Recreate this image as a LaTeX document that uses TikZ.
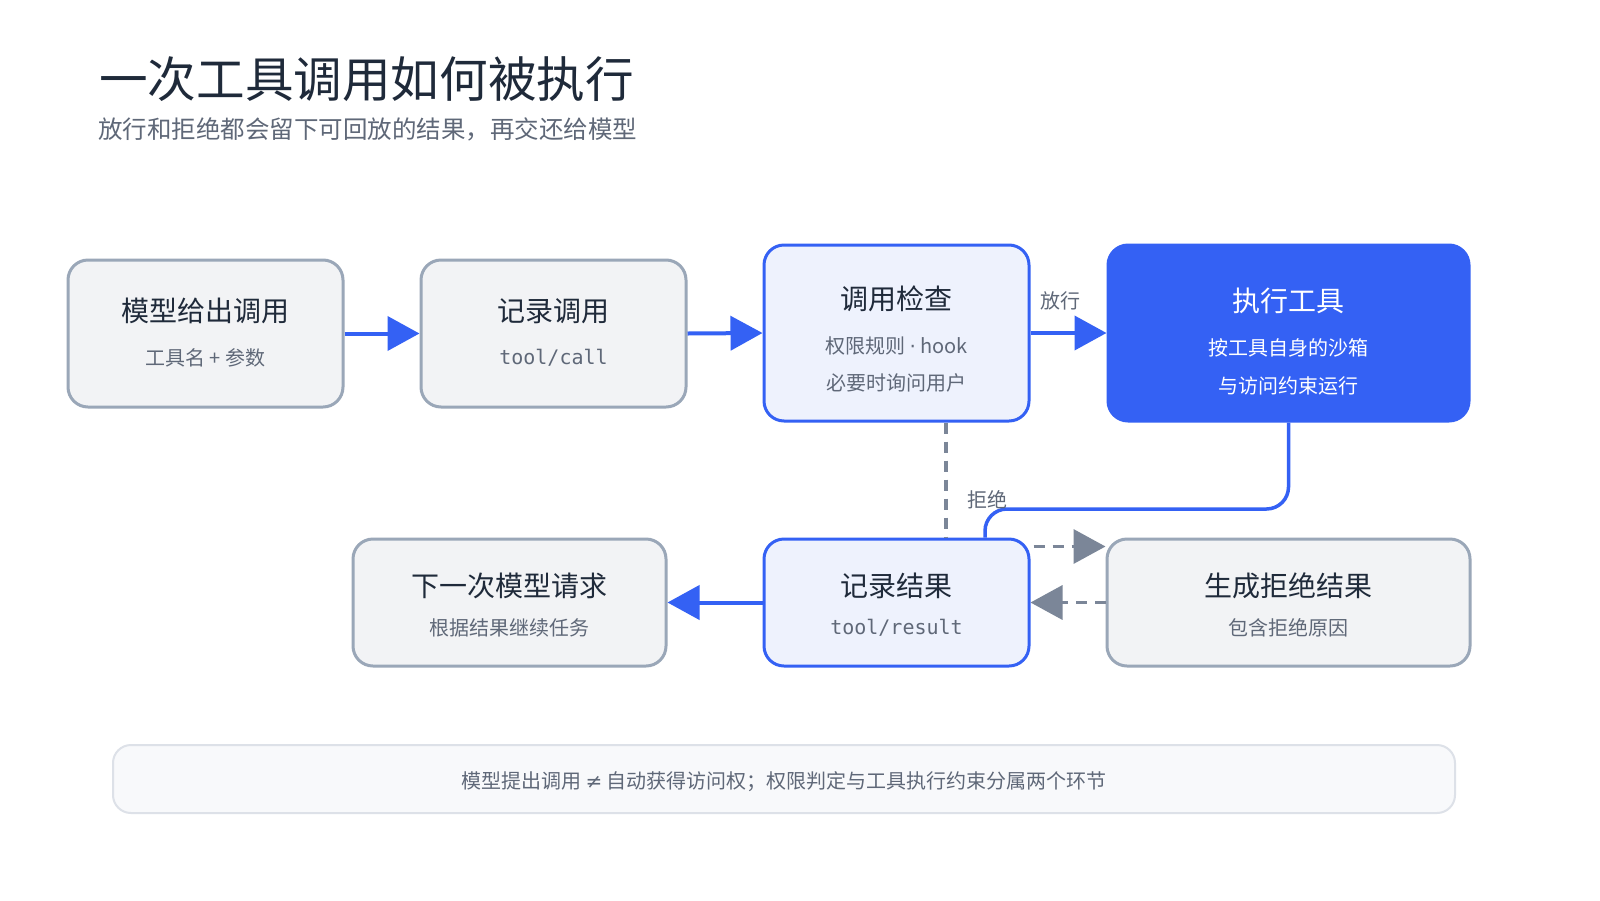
\documentclass[tikz,border=0pt]{standalone}
\usepackage{fontspec}
\setmainfont{Noto Sans CJK SC}
\newfontfamily\monof{DejaVu Sans Mono}
\newfontfamily\symf{DejaVu Sans}
\usetikzlibrary{arrows.meta,calc}
\definecolor{bluemain}{HTML}{3461F4}
\definecolor{bluefill}{HTML}{EEF2FD}
\definecolor{grayfill}{HTML}{F2F3F5}
\definecolor{grayline}{HTML}{9AA7B8}
\definecolor{dashgray}{HTML}{7B8698}
\definecolor{txtdark}{HTML}{1F2A3A}
\definecolor{txtgray}{HTML}{5F6878}
\definecolor{notefill}{HTML}{F8F9FB}
\definecolor{noteline}{HTML}{DDE1E8}
\tikzset{
  graybox/.style={draw=grayline, fill=grayfill, line width=3pt, rounded corners=20pt, inner sep=0pt},
  bluebox/.style={draw=bluemain, fill=bluefill, line width=3pt, rounded corners=20pt, inner sep=0pt},
  solidbox/.style={draw=bluemain, fill=bluemain, line width=3pt, rounded corners=20pt, inner sep=0pt},
  ttl/.style={font=\fontsize{28}{32}\selectfont, text=txtdark, inner sep=0pt},
  sub/.style={font=\fontsize{20}{24}\selectfont, text=txtgray, inner sep=0pt},
  subm/.style={font=\monof\fontsize{20}{24}\selectfont, text=txtgray, inner sep=0pt},
  flow/.style={draw=bluemain, line width=4pt, -{Triangle[length=32pt,width=34pt]}},
  dflow/.style={draw=dashgray, line width=3.5pt, dash pattern=on 11pt off 8pt, -{Triangle[length=32pt,width=34pt]}},
  lbl/.style={font=\fontsize{20}{24}\selectfont, text=txtgray, inner sep=0pt},
}
\begin{document}
\begin{tikzpicture}[x=1pt,y=-1pt]
\useasboundingbox (0,0) rectangle (1600,900);
\fill[white] (0,0) rectangle (1600,900);
% title
\node[anchor=base west, inner sep=0pt, text=txtdark, font=\fontsize{48.6}{52}\selectfont] (title) at (99,97) {一次工具调用如何被执行};
\node[anchor=base west, inner sep=0pt, text=txtgray, font=\fontsize{24.5}{28}\selectfont] (subtitle) at (98,138) {放行和拒绝都会留下可回放的结果，再交还给模型};
% boxes
\node[graybox, minimum width=275pt, minimum height=147pt] (A) at (205.5,333.5) {};
\node[graybox, minimum width=265pt, minimum height=147pt] (B) at (553.5,333.5) {};
\node[bluebox, minimum width=265pt, minimum height=176pt] (C) at (896.5,333) {};
\node[solidbox, minimum width=361pt, minimum height=176pt] (D) at (1288.5,333) {};
\node[graybox, minimum width=313pt, minimum height=127pt] (E) at (509.5,602.5) {};
\node[bluebox, minimum width=265pt, minimum height=127pt] (F) at (896.5,602.5) {};
\node[graybox, minimum width=363pt, minimum height=127pt] (G) at (1288.5,602.5) {};
% texts
\node[ttl] (At) at (205.5,311) {模型给出调用};
\node[sub] (As) at (205.5,358) {工具名 + 参数};
\node[ttl] (Bt) at (553.5,311) {记录调用};
\node[subm] (Bs) at (553.5,358) {tool/call};
\node[ttl] (Ct) at (896.5,299) {调用检查};
\node[sub] (Cs1) at (896.5,346) {权限规则 {\symf ·} hook};
\node[sub] (Cs2) at (896.5,383) {必要时询问用户};
\node[ttl, text=white] (Dt) at (1288.5,301) {执行工具};
\node[sub, text=white] (Ds1) at (1288.5,348) {按工具自身的沙箱};
\node[sub, text=white] (Ds2) at (1288.5,386) {与访问约束运行};
\node[ttl] (Et) at (509.5,586) {下一次模型请求};
\node[sub] (Es) at (509.5,628) {根据结果继续任务};
\node[ttl] (Ft) at (896.5,586) {记录结果};
\node[subm] (Fs) at (896.5,628) {tool/result};
\node[ttl] (Gt) at (1288.5,586) {生成拒绝结果};
\node[sub] (Gs) at (1288.5,628) {包含拒绝原因};
% connectors
\draw[flow] (A.east) -- (B.west);
\draw[flow] (B.east) -- (C.west);
\draw[flow] (C.east) -- (D.west);
\node[lbl] (l1) at (1060,301) {放行};
\coordinate (k1) at (985,509);
\draw[bluemain, line width=3.5pt, rounded corners=22pt] (D.south) |- (k1) -- (k1 |- F.north);
\draw[dashgray, line width=3.5pt, dash pattern=on 11pt off 8pt] ($(C.south)+(49.5,0)$) -- ($(F.north)+(49.5,0)$);
\node[lbl] (l2) at (987,500) {拒绝};
\draw[dflow] ($(F.north east)+(3,9)$) -- ($(G.north west)+(0,9)$);
\draw[dflow] (G.west) -- (F.east);
\draw[flow] (F.west) -- (E.east);
% note
\node[draw=noteline, fill=notefill, line width=2pt, rounded corners=18pt, minimum width=1342pt, minimum height=68pt, inner sep=0pt] (N) at (784,779) {};
\node[lbl, text=txtgray] (Nt) at (784,782) {模型提出调用 {\symf ≠} 自动获得访问权；权限判定与工具执行约束分属两个环节};
\end{tikzpicture}
\end{document}
